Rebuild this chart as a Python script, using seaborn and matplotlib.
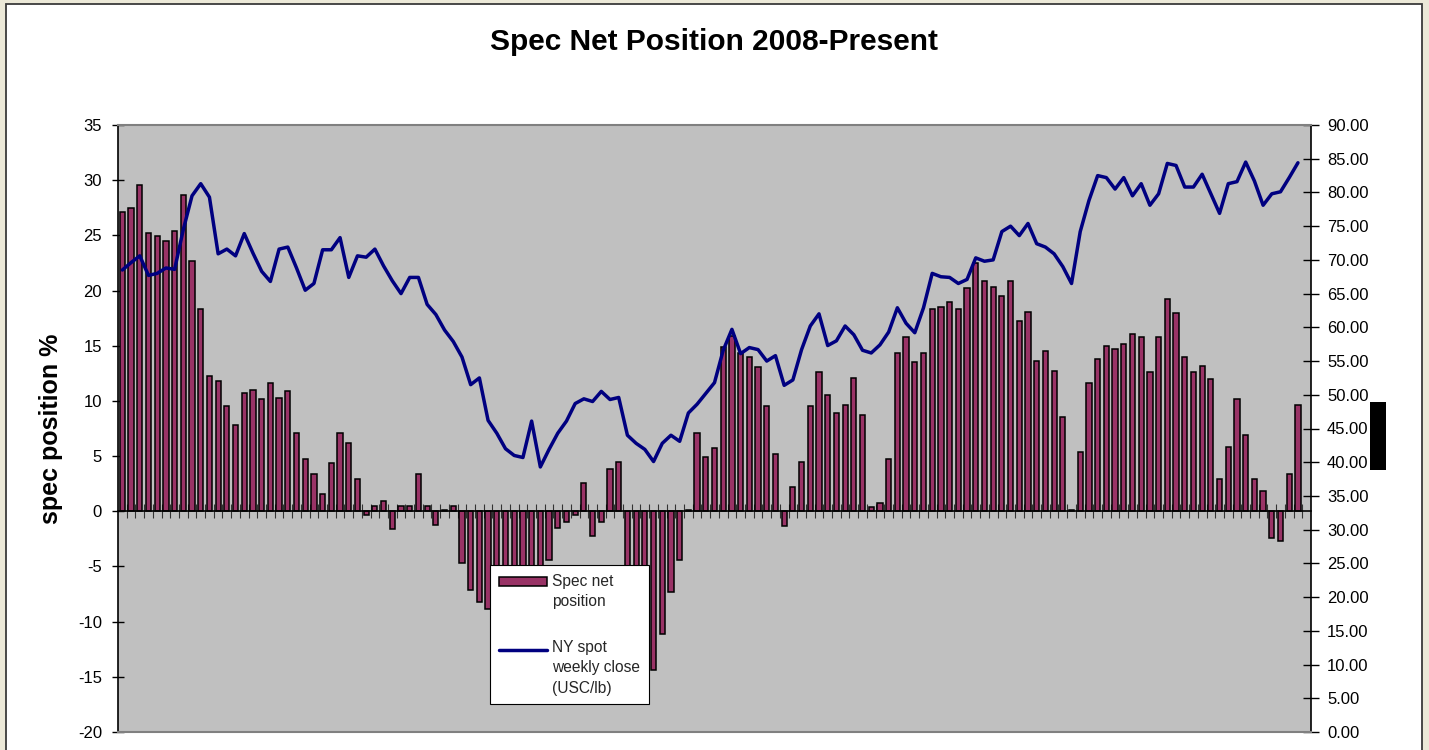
import numpy as np
import pandas as pd
import matplotlib
matplotlib.use("Agg")
import matplotlib.pyplot as plt
import seaborn as sns
from matplotlib.patches import Rectangle, Patch
from matplotlib.lines import Line2D
from matplotlib.legend_handler import HandlerPatch, HandlerLine2D

# ---------------- data ----------------
spec_net = [27.1, 27.5, 29.6, 25.2, 24.9, 24.5, 25.4, 28.7, 22.7, 18.3,
            12.3, 11.8, 9.5, 7.8, 10.7, 11.0, 10.2, 11.6, 10.3, 10.9,
            7.1, 4.7, 3.4, 1.6, 4.4, 7.1, 6.2, 2.9, -0.3, 0.5,
            0.9, -1.6, 0.5, 0.5, 3.4, 0.5, -1.2, 0.1, 0.5, -4.7,
            -7.1, -8.2, -8.9, -9.5, -10.2, -9.0, -10.5, -9.2, -7.5, -4.4,
            -1.5, -1.0, -0.35, 2.55, -2.2, -1.0, 3.8, 4.5, -9.0, -11.5,
            -13.0, -14.4, -11.1, -7.3, -4.4, 0.1, 7.1, 4.9, 5.7, 14.9,
            15.9, 14.3, 14.0, 13.1, 9.5, 5.2, -1.3, 2.2, 4.5, 9.5,
            12.6, 10.5, 8.9, 9.6, 12.1, 8.7, 0.35, 0.75, 4.7, 14.3,
            15.8, 13.5, 14.3, 18.3, 18.5, 19.0, 18.3, 20.2, 22.5, 20.9,
            20.3, 19.5, 20.9, 17.2, 18.1, 13.6, 14.5, 12.7, 8.5, 0.1,
            5.4, 11.6, 13.8, 15.0, 14.7, 15.2, 16.1, 15.8, 12.6, 15.8,
            19.2, 18.0, 14.0, 12.6, 13.2, 12.0, 2.9, 5.8, 10.2, 6.9,
            2.9, 1.8, -2.4, -2.7, 3.4, 9.6]

ny_spot = [68.5, 69.6, 70.6, 67.7, 68.0, 68.8, 68.6, 74.5, 79.5, 81.3,
           79.3, 70.9, 71.6, 70.6, 73.9, 71.0, 68.3, 66.8, 71.6, 71.9,
           68.8, 65.5, 66.5, 71.5, 71.5, 73.3, 67.4, 70.6, 70.4, 71.6,
           69.1, 66.9, 65.0, 67.4, 67.4, 63.4, 61.9, 59.6, 57.9, 55.6,
           51.5, 52.5, 46.2, 44.3, 42.0, 41.0, 40.7, 46.1, 39.3, 41.9,
           44.3, 46.1, 48.7, 49.4, 49.0, 50.5, 49.3, 49.6, 44.0, 42.8,
           41.9, 40.1, 42.8, 44.0, 43.1, 47.3, 48.6, 50.2, 51.8, 56.6,
           59.7, 56.1, 57.0, 56.7, 55.0, 55.8, 51.4, 52.2, 56.7, 60.2,
           62.0, 57.3, 58.0, 60.2, 58.9, 56.6, 56.2, 57.4, 59.3, 62.9,
           60.6, 59.2, 62.9, 68.0, 67.5, 67.4, 66.5, 67.1, 70.3, 69.8,
           70.0, 74.2, 75.0, 73.6, 75.4, 72.4, 71.9, 70.9, 69.0, 66.5,
           74.2, 78.8, 82.5, 82.2, 80.5, 82.2, 79.5, 81.3, 78.1, 79.8,
           84.3, 84.0, 80.8, 80.8, 82.7, 79.8, 76.9, 81.3, 81.6, 84.5,
           81.7, 78.1, 79.8, 80.1, 82.2, 84.4]

title = "Spec Net Position 2008-Present"
left_label = "spec position %"
legend_labels = ["Spec net\nposition", "NY spot\nweekly close\n(USC/lb)"]
left_ticks = [-20, -15, -10, -5, 0, 5, 10, 15, 20, 25, 30, 35]
right_ticks = [0, 5, 10, 15, 20, 25, 30, 35, 40, 45, 50, 55, 60, 65, 70, 75, 80, 85, 90]

# ---------------- style ----------------
sns.set_theme(style="white")
plt.rcParams['font.family'] = ['Liberation Sans', 'DejaVu Sans']
plt.rcParams['axes.unicode_minus'] = False

BAR = '#993366'
LINE = '#000080'
W, H = 1429, 750


class TopPatchHandler(HandlerPatch):
    """Legend key raised to sit beside the first line of a multi-line label."""
    def __init__(self, dy, **kw):
        super().__init__(**kw)
        self.dy = dy

    def create_artists(self, legend, orig_handle, xdescent, ydescent, width,
                       height, fontsize, trans):
        return super().create_artists(legend, orig_handle, xdescent,
                                      ydescent - self.dy, width, height,
                                      fontsize, trans)


class TopLineHandler(HandlerLine2D):
    def __init__(self, dy, **kw):
        super().__init__(**kw)
        self.dy = dy

    def create_artists(self, legend, orig_handle, xdescent, ydescent, width,
                       height, fontsize, trans):
        return super().create_artists(legend, orig_handle, xdescent,
                                      ydescent - 2 * self.dy, width, height,
                                      fontsize, trans)


fig = plt.figure(figsize=(W / 100, H / 100), dpi=100, facecolor='#ECE9D8')
fig.patches.append(Rectangle((5.5 / W, -0.05), (1421.5 - 5.5) / W, 1.05 - 4 / H,
                             transform=fig.transFigure, facecolor='white',
                             edgecolor='#3a3a3a', lw=1.3, zorder=-5))

ax = fig.add_axes([118 / W, (H - 732) / H, (1311 - 118) / W, (732 - 125) / H])
ax.set_facecolor('#C0C0C0')

df = pd.DataFrame({'week': np.arange(len(spec_net)), 'spec': spec_net, 'spot': ny_spot})

sns.barplot(data=df, x='week', y='spec', native_scale=True, color=BAR,
            saturation=1, edgecolor='black', linewidth=1.1, width=0.6,
            errorbar=None, ax=ax, zorder=2)

ax2 = ax.twinx()
sns.lineplot(data=df, x='week', y='spot', color=LINE, lw=2.5, ax=ax2,
             legend=False, zorder=3)

n = len(spec_net)
ax.set_xlim(-0.5, n + 0.5)
ax.set_ylim(-20, 35)
ax2.set_ylim(0, 90)

# x ticks at category boundaries on the zero line
ax.set_xticks(np.arange(1, n + 1) - 0.5)
ax.set_xticklabels([])
ax.tick_params(axis='x', bottom=True, direction='inout', length=10, width=0.8,
               color='#333333')
ax.set_xlabel('')
ax2.set_xlabel('')

ax.set_yticks(left_ticks)
ax.set_yticklabels([str(t) for t in left_ticks])
ax.tick_params(axis='y', left=True, direction='inout', length=9, width=1.0,
               color='black', labelsize=12, labelcolor='black', pad=7)
ax2.set_yticks(right_ticks)
ax2.set_yticklabels([f"{t:.2f}" for t in right_ticks])
ax2.tick_params(axis='y', right=True, direction='inout', length=11, width=1.0,
                color='black', labelsize=12, labelcolor='black', pad=6)
ax2.set_ylabel('')

ax.set_ylabel(left_label, fontsize=18, fontweight='bold', va='center', color='black')
ax.yaxis.set_label_coords(-0.056, 0.5)

# spines
ax.spines['top'].set_visible(False)
ax.spines['right'].set_visible(False)
ax.spines['left'].set_color('black')
ax.spines['left'].set_linewidth(1.2)
ax.spines['bottom'].set_position(('data', 0))
ax.spines['bottom'].set_color('black')
ax.spines['bottom'].set_linewidth(1.2)
ax2.spines['left'].set_visible(False)
ax2.spines['top'].set_color('#808080')
ax2.spines['bottom'].set_color('#808080')
ax2.spines['top'].set_linewidth(1.5)
ax2.spines['bottom'].set_linewidth(1.5)
ax2.spines['right'].set_color('black')
ax2.spines['right'].set_linewidth(1.2)

fig.suptitle(title, x=0.5, y=1 - 42 / H, va='center', fontsize=21.5,
             fontweight='bold', color='black')

bar_key = Patch(facecolor=BAR, edgecolor='black', lw=1.1)
line_key = Line2D([], [], color=LINE, lw=2.5)
leg = ax2.legend([bar_key, line_key], legend_labels, loc='upper left',
                 bbox_to_anchor=(490 / W, 1 - 565 / H), bbox_transform=fig.transFigure,
                 frameon=True, fancybox=False, edgecolor='black', facecolor='white',
                 framealpha=1, fontsize=11.2, handlelength=3.1, handleheight=0.55,
                 handletextpad=0.35, labelspacing=2.0, borderpad=0.55, borderaxespad=0,
                 handler_map={bar_key: TopPatchHandler(7.5),
                              line_key: TopLineHandler(13.5)})
for t in leg.get_texts():
    t.set_linespacing(1.45)
leg.get_frame().set_linewidth(0.8)
leg.set_zorder(10)

# dark block on the right margin
fig.patches.append(Rectangle((1370 / W, 1 - 470 / H), 16 / W, 68 / H,
                             transform=fig.transFigure, facecolor='black',
                             edgecolor='none', zorder=10))

fig.savefig('out.png', dpi=100, facecolor=fig.get_facecolor())
